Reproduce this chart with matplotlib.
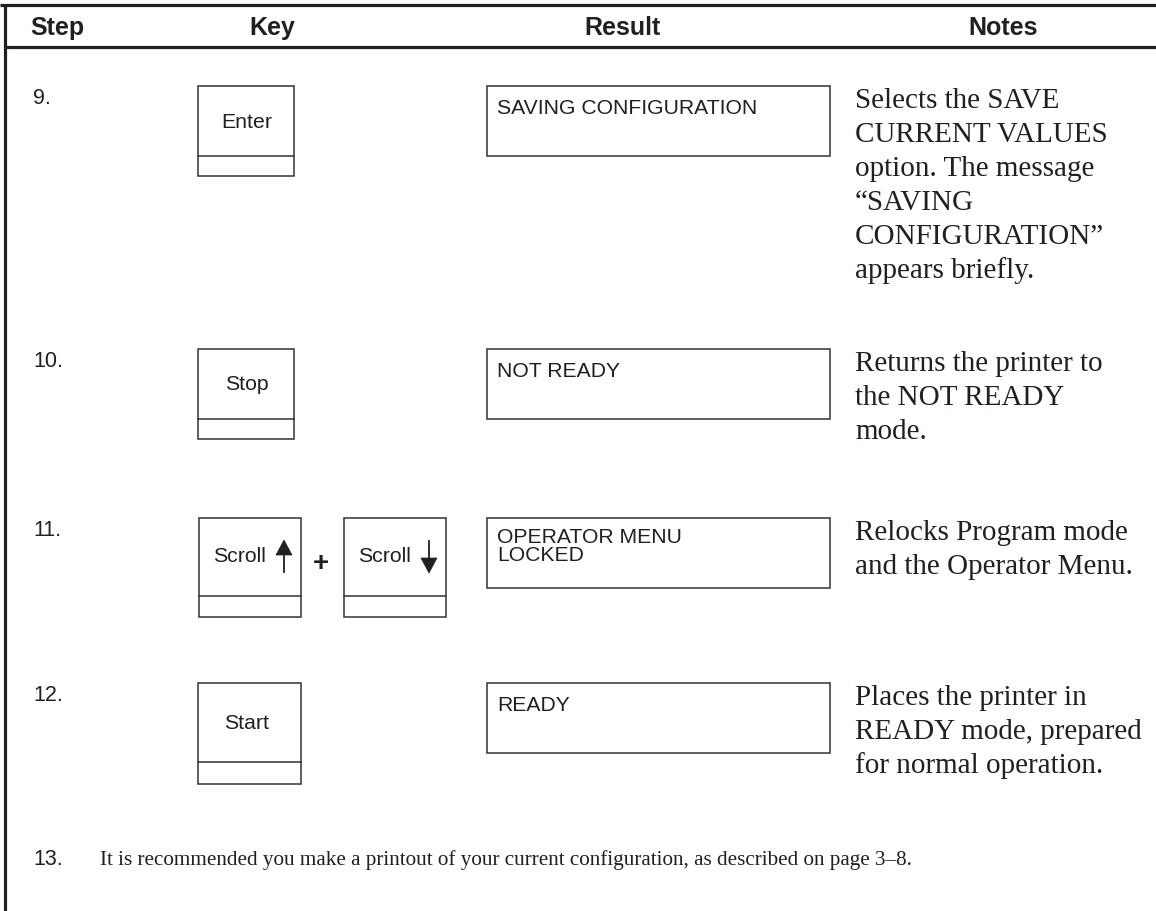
import matplotlib
matplotlib.use("Agg")
import matplotlib.pyplot as plt
from matplotlib.patches import Rectangle, Polygon
from matplotlib import font_manager

# ---- data ----
headers = ["Step", "Key", "Result", "Notes"]
steps = ["9.", "10.", "11.", "12."]
keys = [["Enter"], ["Stop"], ["Scroll up", "Scroll down"], ["Start"]]
results = [["SAVING CONFIGURATION"], ["NOT READY"], ["OPERATOR MENU", "LOCKED"], ["READY"]]
notes = [
    ["Selects the SAVE", "CURRENT VALUES", "option. The message", "\u201cSAVING", "CONFIGURATION\u201d", "appears briefly."],
    ["Returns the printer to", "the NOT READY", "mode."],
    ["Relocks Program mode", "and the Operator Menu."],
    ["Places the printer in", "READY mode, prepared", "for normal operation."],
]
final_step = "13."
final_note = "It is recommended you make a printout of your current configuration, as described on page 3\u20138."

# ---- layout (pixels) ----
W, H = 1156, 912
row_tops = [87, 350, 519, 684]
header_x = [57, 272, 622, 1003]
ink = "#231f20"
box_c = "#333333"

available = {f.name for f in font_manager.fontManager.ttflist}
head_font = "Liberation Sans Narrow" if "Liberation Sans Narrow" in available else "Liberation Sans"
sans = "Liberation Sans"
serif = "Liberation Serif"

fig = plt.figure(figsize=(W / 100, H / 100), dpi=100)
ax = fig.add_axes([0, 0, 1, 1])
ax.set_xlim(0, W)
ax.set_ylim(H, 0)
ax.axis("off")

# frame
ax.plot([0, W], [6, 6], color=ink, lw=2.3, solid_capstyle="butt")
ax.plot([5, W], [47.5, 47.5], color=ink, lw=2.3, solid_capstyle="butt")
ax.plot([5, 5], [5, H], color=ink, lw=2.3, solid_capstyle="butt")

for hx, ht in zip(header_x, headers):
    ax.text(hx, 35, ht, ha="center", va="baseline",
            fontsize=20 if head_font == "Liberation Sans Narrow" else 18,
            fontweight="bold", family=head_font, color=ink)

def key_box(x0, y0, w, h, div):
    ax.add_patch(Rectangle((x0, y0), w, h, fill=False, ec=box_c, lw=1.1))
    ax.plot([x0, x0 + w], [y0 + div, y0 + div], color=box_c, lw=1.1)

for i, top in enumerate(row_tops):
    ax.text(33, top + 17, steps[i], ha="left", va="baseline", fontsize=15.5, family=sans, color=ink)
    k = keys[i]
    if len(k) == 1:
        w, h, div = 96, 90, 70
        if i == 3:
            w, h, div = 103, 101, 79
        key_box(198, top, w, h, div)
        ax.text(198 + 49, top + div / 2, k[0], ha="center", va="center", fontsize=15.3, family=sans, color=ink)
    else:
        w, h, div = 102, 99, 78
        for j, x0 in enumerate([199, 344]):
            key_box(x0, top, w, h, div)
            ax.text(x0 + 14, top + 38, "Scroll", ha="left", va="center", fontsize=15.3, family=sans, color=ink)
            ax_x = x0 + 85
            if j == 0:
                tip = top + 22
                ax.plot([ax_x, ax_x], [tip + 10, tip + 32], color=ink, lw=1.3)
                ax.add_patch(Polygon([[ax_x - 8, tip + 15], [ax_x + 8, tip + 15], [ax_x, tip]], closed=True, fc=ink, ec=ink, lw=0.5))
            else:
                tip = top + 55
                ax.plot([ax_x, ax_x], [tip - 32, tip - 10], color=ink, lw=1.3)
                ax.add_patch(Polygon([[ax_x - 8, tip - 15], [ax_x + 8, tip - 15], [ax_x, tip]], closed=True, fc=ink, ec=ink, lw=0.5))
        ax.text(321, top + 45, "+", ha="center", va="center", fontsize=20, fontweight="bold", family=sans, color=ink)

    # result display box
    ax.add_patch(Rectangle((487, top), 343, 70, fill=False, ec=box_c, lw=1.1))
    r = results[i]
    for j, line in enumerate(r):
        yb = top + 27 if len(r) == 1 else top + 24 + j * 18
        ax.text(497, yb, line, ha="left", va="baseline", fontsize=15.2, family=sans, color=ink)

    # notes
    for j, line in enumerate(notes[i]):
        ax.text(855, top + 21 + j * 34, line, ha="left", va="baseline", fontsize=21, family=serif, color=ink)

ax.text(33, 865, final_step, ha="left", va="baseline", fontsize=15.5, family=sans, color=ink)
ax.text(100, 865, final_note, ha="left", va="baseline", fontsize=15.2, family=serif, color=ink)

fig.savefig("out.png", dpi=100)
